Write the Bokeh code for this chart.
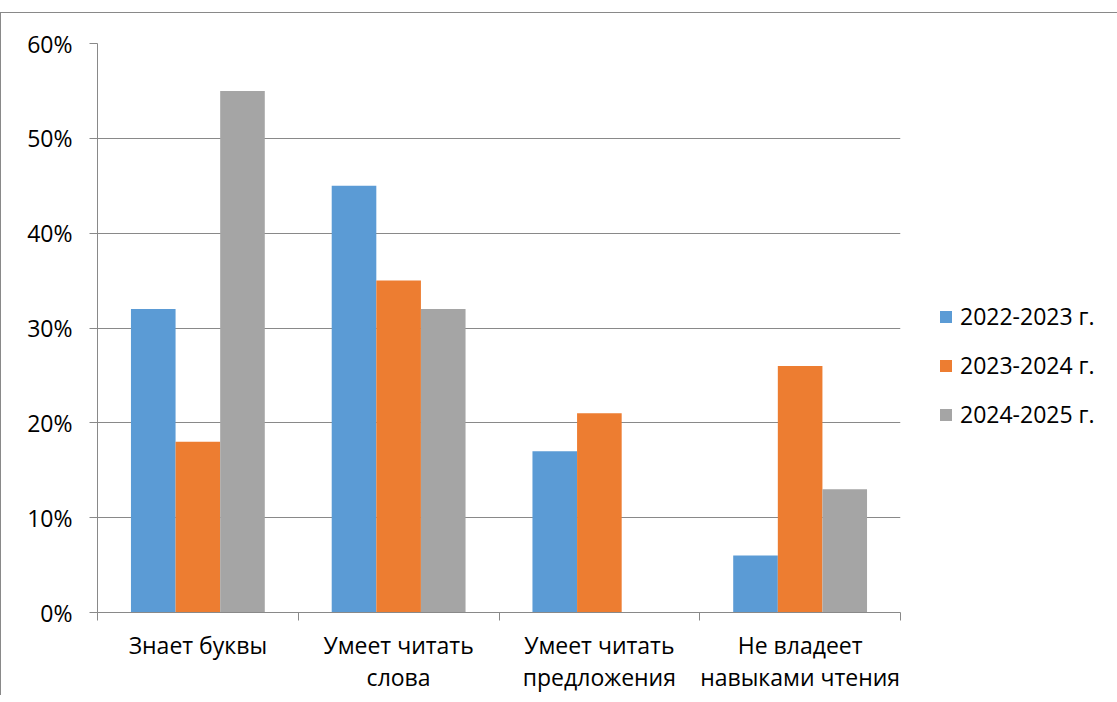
from bokeh.plotting import figure
from bokeh.models import Range1d, FixedTicker, Legend, LegendItem, ColumnDataSource
from bokeh.embed import file_html
from bokeh.resources import INLINE

categories = ["Знает буквы", "Умеет читать\nслова", "Умеет читать\nпредложения", "Не владеет\nнавыками чтения"]
series_names = ["2022-2023 г.", "2023-2024 г.", "2024-2025 г."]
s2022 = [32, 45, 17, 6]
s2023 = [18, 35, 21, 26]
s2024 = [55, 32, 0, 13]
colors = ["#5B9BD5", "#ED7D31", "#A5A5A5"]
y_ticks = [0, 10, 20, 30, 40, 50, 60]
y_labels = ["0%", "10%", "20%", "30%", "40%", "50%", "60%"]

FONT = "Open Sans"
GRID = "#898989"
n = len(categories)
bar_w = 2.0 / 9.0  # gap width 150%

p = figure(frame_width=803, frame_height=569,
           x_range=Range1d(0, n), y_range=Range1d(0, 60),
           output_backend="svg", toolbar_location=None,
           min_border_left=96, min_border_top=30, min_border_right=210, min_border_bottom=80)
p.styles = {"border-left": "1px solid #898989", "border-top": "1px solid #898989", "margin-top": "12px"}
p.outline_line_color = None
p.background_fill_color = "white"
p.border_fill_color = "white"

renderers = []
for j, (vals, col) in enumerate(zip([s2022, s2023, s2024], colors)):
    xs = [i + 0.5 + (j - 1) * bar_w for i in range(n)]
    src = ColumnDataSource(dict(x=xs, top=vals))
    r = p.vbar(x="x", top="top", width=bar_w, source=src, fill_color=col, line_color=None)
    renderers.append(r)

# grid
p.xgrid.visible = False
p.ygrid.ticker = FixedTicker(ticks=y_ticks)
p.ygrid.grid_line_color = GRID
p.ygrid.grid_line_width = 1

# y axis
ya = p.yaxis[0]
ya.ticker = FixedTicker(ticks=y_ticks)
ya.major_label_overrides = {t: l for t, l in zip(y_ticks, y_labels)}
ya.axis_line_color = GRID
ya.major_tick_line_color = GRID
ya.major_tick_out = 8
ya.major_tick_in = 0
ya.minor_tick_line_color = None
ya.major_label_standoff = 17
ya.major_label_text_font = FONT
ya.major_label_text_font_size = "23px"
ya.major_label_text_color = "black"

# x axis
xa = p.xaxis[0]
xa.ticker = FixedTicker(ticks=[i + 0.5 for i in range(n)], minor_ticks=list(range(n + 1)))
xa.major_label_overrides = {i + 0.5: c for i, c in enumerate(categories)}
xa.axis_line_color = GRID
xa.major_tick_line_color = None
xa.major_tick_out = 0
xa.major_tick_in = 0
xa.minor_tick_line_color = GRID
xa.minor_tick_out = 8
xa.minor_tick_in = 0
xa.major_label_standoff = 8
xa.major_label_text_font = FONT
xa.major_label_text_font_size = "23px"
xa.major_label_text_color = "black"
xa.major_label_text_line_height = 1.0

legend = Legend(items=[LegendItem(label=s, renderers=[r]) for s, r in zip(series_names, renderers)],
                location=(38, 182))
legend.border_line_color = None
legend.background_fill_alpha = 0
legend.padding = 0
legend.margin = 0
legend.glyph_width = 15
legend.glyph_height = 15
legend.label_standoff = 7
legend.spacing = 17
legend.label_text_font = FONT
legend.label_text_font_size = "23px"
legend.label_text_color = "black"
p.add_layout(legend, "right")

open("out.html", "w").write(file_html(p, INLINE))
